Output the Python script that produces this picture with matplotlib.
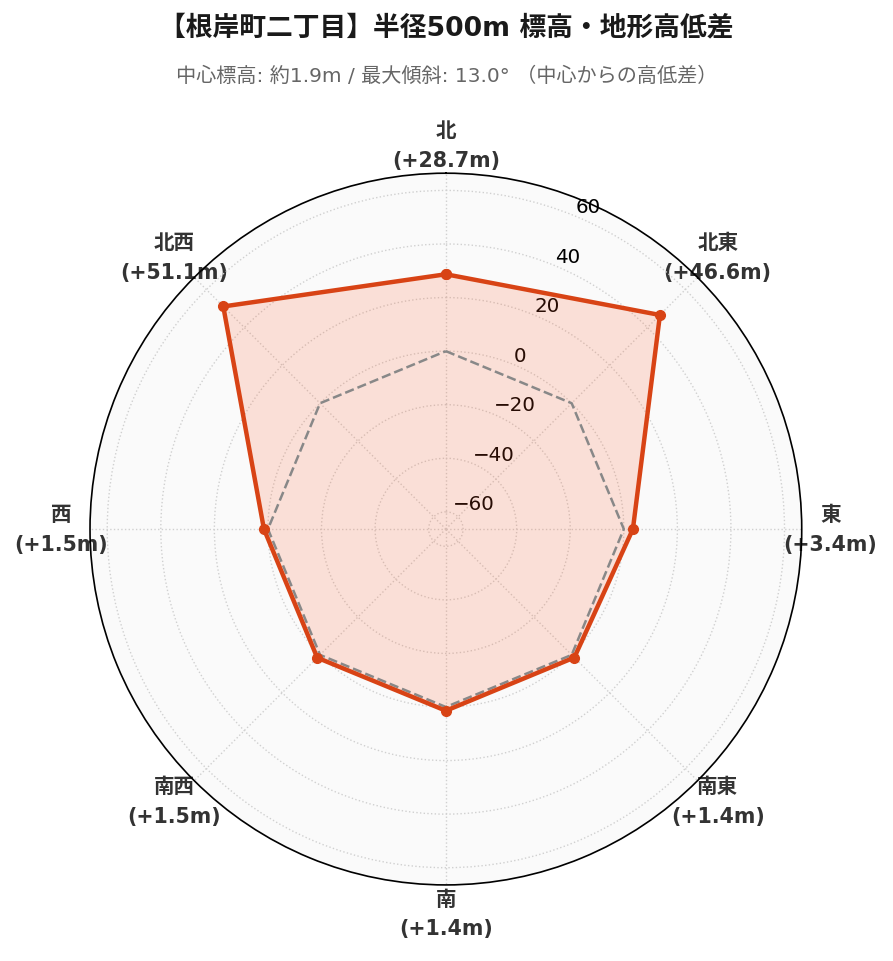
import numpy as np
import matplotlib
matplotlib.use("Agg")
import matplotlib.pyplot as plt

plt.rcParams['font.family'] = ['DejaVu Sans', 'Noto Sans CJK JP']

title = "【根岸町二丁目】半径500m 標高・地形高低差"
subtitle = "中心標高: 約1.9m / 最大傾斜: 13.0° （中心からの高低差）"
directions = ["北", "北東", "東", "南東", "南", "南西", "西", "北西"]
diffs = [28.7, 46.6, 3.4, 1.4, 1.4, 1.5, 1.5, 51.1]
baseline = [0, 0, 0, 0, 0, 0, 0, 0]
rticks = [-60, -40, -20, 0, 20, 40, 60]
rmax = max(abs(v) for v in diffs) * 1.3

line_color = "#d84315"

angles = np.linspace(0, 2 * np.pi, len(directions), endpoint=False)
ang_c = np.append(angles, angles[0])
vals_c = np.append(diffs, diffs[0])
base_c = np.append(baseline, baseline[0])

fig = plt.figure(figsize=(8.93, 9.62), dpi=100)
ax = fig.add_axes([0.1008, 0.079, 0.797, 0.740], projection='polar')
ax.set_theta_offset(np.pi / 2)
ax.set_theta_direction(-1)
ax.set_facecolor("#fafafa")

ax.plot(ang_c, base_c, "--", color="#888888", linewidth=1.8, zorder=3)
ax.fill(ang_c, vals_c, color="#ff5722", alpha=0.16, zorder=2)
ax.plot(ang_c, vals_c, "-o", color=line_color, linewidth=3.2, markersize=7, zorder=4)

ax.set_ylim(-rmax, rmax)
ax.set_yticks(rticks)
ax.tick_params(axis='y', labelsize=14.3)
ax.set_xticks(angles)
ax.set_xticklabels([f"{d}\n(+{v:.1f}m)" for d, v in zip(directions, diffs)],
                   fontsize=14.8, fontweight="bold", color="#333333", linespacing=1.6)
ax.tick_params(axis='x', pad=10)
ax.grid(True, linestyle=":", color="#d0d0d0", linewidth=1.0)
ax.spines['polar'].set_color("black")
ax.spines['polar'].set_linewidth(1.2)

fig.text(0.5, 1 - 28 / 962, title, ha="center", va="center",
         fontsize=19.3, fontweight="bold", color="#1a1a1a")
fig.text(0.5, 1 - 76 / 962, subtitle, ha="center", va="center",
         fontsize=14.5, color="#666666")

fig.savefig("out.png", dpi=100)
